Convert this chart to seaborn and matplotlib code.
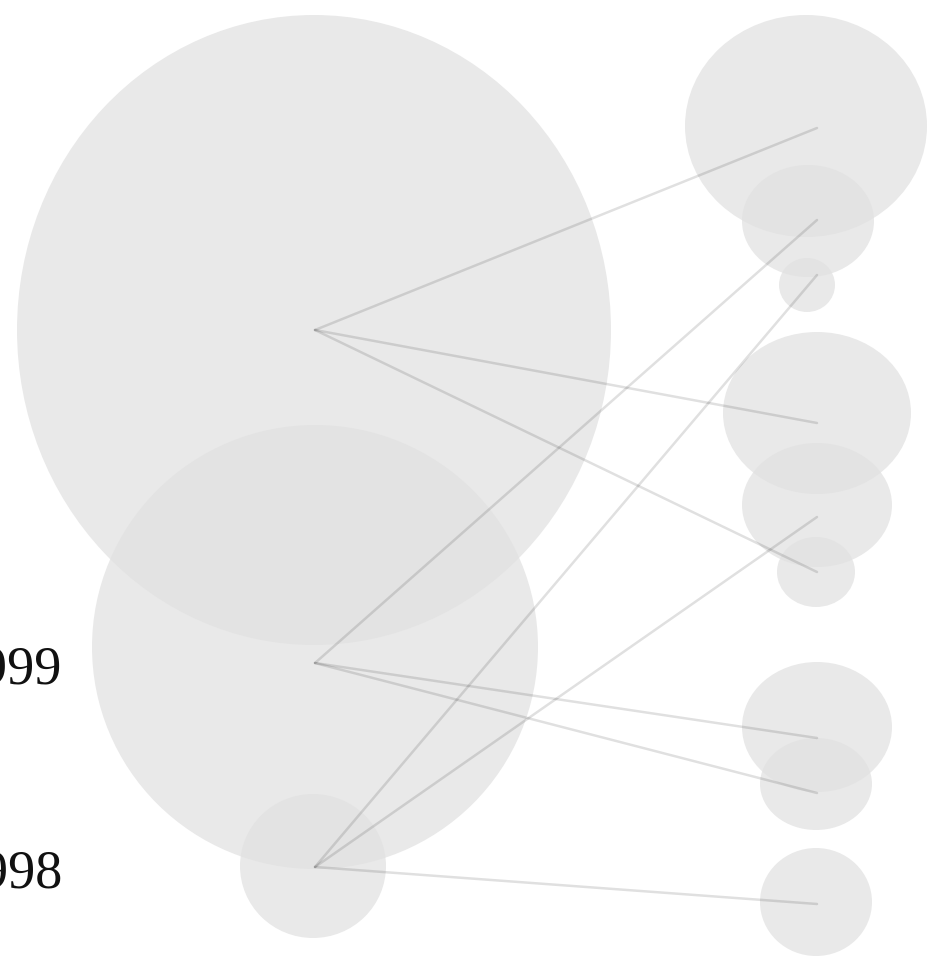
#!/usr/bin/env python
# coding: utf-8

import pandas as pd
import matplotlib.pyplot as plt
import seaborn as sns
from matplotlib.patches import Ellipse

# --- nodes on the left (years) ---
left_labels = ['2000', '1999', '1998']
left_show = [False, True, True]
left_y = [330, 663, 867]

# --- nodes on the right ---
right_y = [128, 220, 275, 423, 517, 572, 738, 793, 904]
right_src = [0, 1, 2, 0, 2, 0, 1, 1, 2]   # index of the left node each one links to

# --- bubbles (centre x, centre y, half width, half height) ---
left_cx = [314, 315, 313]
left_cy = [330, 647, 866]
left_rx = [297, 223, 73]
left_ry = [315, 222, 72]

right_cx = [806, 808, 807, 817, 817, 816, 817, 816, 816]
right_cy = [126, 221, 285, 413, 505, 572, 727, 784, 902]
right_rx = [121, 66, 28, 94, 75, 39, 75, 56, 56]
right_ry = [111, 56, 27, 81, 62, 35, 65, 46, 54]

LEFT_X = 315
RIGHT_X = 817

sns.set_theme(style='white')

fig = plt.figure(figsize=(9.3, 9.63), dpi=100)
ax = fig.add_axes([0, 0, 1, 1])

# bubbles
for cx, cy, rx, ry in list(zip(left_cx, left_cy, left_rx, left_ry)) + \
        list(zip(right_cx, right_cy, right_rx, right_ry)):
    ax.add_patch(Ellipse((cx, cy), 2 * rx, 2 * ry, facecolor='#e1e1e1',
                         edgecolor='none', alpha=0.73, zorder=1))

# links
rows = []
for i, (ry_, src) in enumerate(zip(right_y, right_src)):
    rows.append({'edge': i, 'x': LEFT_X, 'y': left_y[src]})
    rows.append({'edge': i, 'x': RIGHT_X, 'y': ry_})
df_edges = pd.DataFrame(rows)

sns.lineplot(data=df_edges, x='x', y='y', units='edge', estimator=None,
             sort=False, color='black', alpha=0.12, linewidth=1.8, ax=ax,
             zorder=2)
ax.set_xlim(0, 930)
ax.set_ylim(963, 0)
ax.axis('off')

# year labels (cut at the left edge, as in the original)
for lab, show, y in zip(left_labels, left_show, left_y):
    if show:
        ax.text(62, y + 20, lab, ha='right', va='baseline',
                fontsize=39, family='Liberation Serif', color='#111111',
                zorder=3)

plt.savefig('out.png', dpi=100)
